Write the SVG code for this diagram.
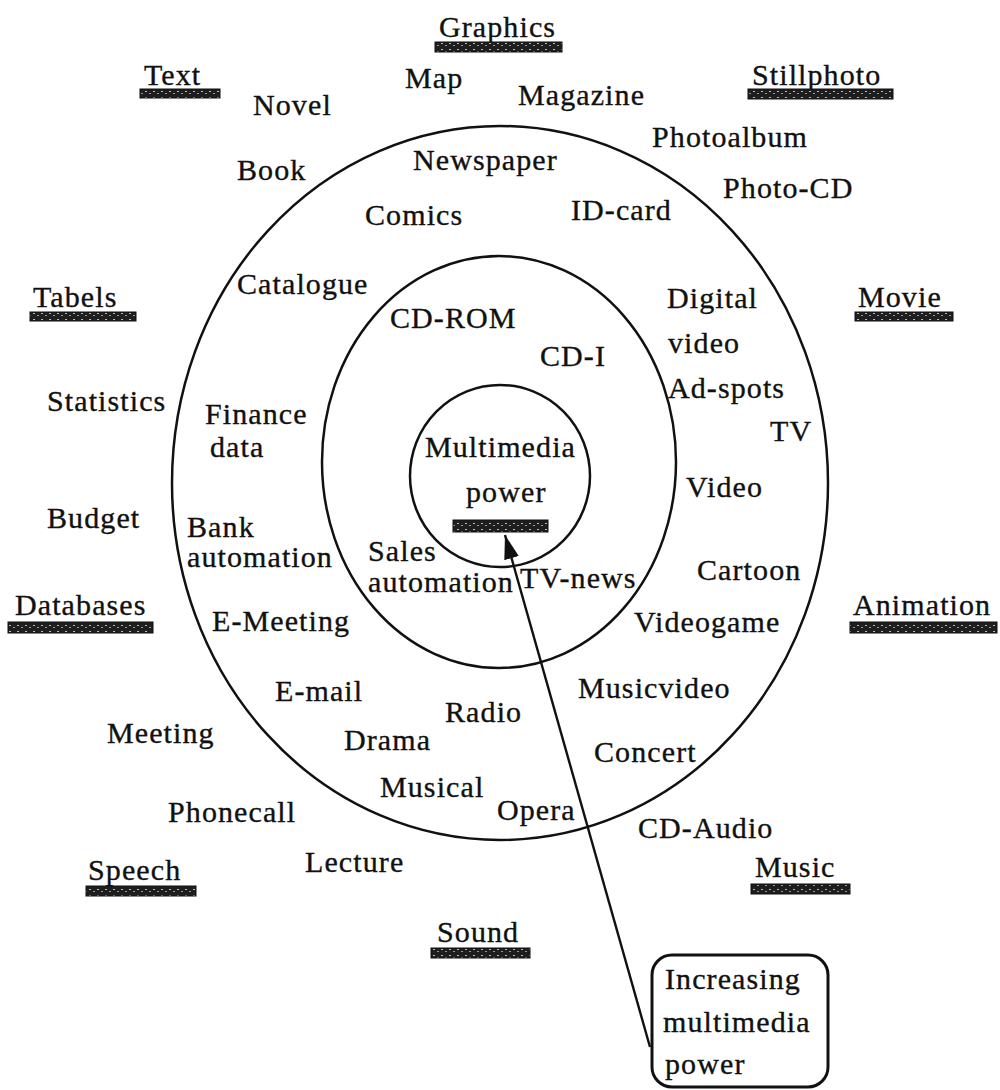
<svg xmlns="http://www.w3.org/2000/svg" width="1000" height="1090" viewBox="0 0 1000 1090">
<style>
  text { font-family: "Liberation Serif", "Times New Roman", serif; font-size: 30px; letter-spacing: 1.1px; fill: #111; stroke: #111; stroke-width: 0.35; }
  .ring { fill: none; stroke: #111; stroke-width: 2.5; }
  .bar { fill: url(#hatch); stroke: #111; stroke-width: 1; }
  .conn { fill: none; stroke: #111; stroke-width: 2.4; }
  .box { fill: #fff; stroke: #111; stroke-width: 3; }
</style>
<defs>
  <pattern id="hatch" patternUnits="userSpaceOnUse" width="8" height="6">
    <rect width="8" height="6" fill="#1e1e1e"/>
    <rect x="1" y="1" width="2" height="1" fill="#bbb"/>
    <rect x="5" y="3" width="2" height="1" fill="#999"/>
  </pattern>
  <marker id="arrow" markerUnits="userSpaceOnUse" markerWidth="26" markerHeight="16" refX="24" refY="7.5" orient="auto">
    <path d="M0,0 L24,7.5 L0,15 Z" fill="#111"/>
  </marker>
</defs>

<g id="rings">
  <ellipse id="ring-outer" class="ring" cx="500" cy="483" rx="328" ry="357"/>
  <ellipse id="ring-middle" class="ring" cx="499" cy="462" rx="177" ry="206"/>
  <ellipse id="ring-inner" class="ring" cx="500" cy="476" rx="90" ry="91"/>
</g>

<g id="categories">
  <g id="cat-graphics"><text x="439" y="37">Graphics</text><rect class="bar" x="435" y="42" width="127" height="10"/></g>
  <g id="cat-text"><text x="144" y="85">Text</text><rect class="bar" x="140" y="89" width="80" height="9"/></g>
  <g id="cat-stillphoto"><text x="752" y="85">Stillphoto</text><rect class="bar" x="748" y="89" width="145" height="10"/></g>
  <g id="cat-tabels"><text x="33" y="307">Tabels</text><rect class="bar" x="30" y="312" width="106" height="9"/></g>
  <g id="cat-movie"><text x="858" y="307">Movie</text><rect class="bar" x="855" y="312" width="98" height="9"/></g>
  <g id="cat-databases"><text x="15" y="615">Databases</text><rect class="bar" x="8" y="622" width="145" height="11"/></g>
  <g id="cat-animation"><text x="853" y="615">Animation</text><rect class="bar" x="850" y="622" width="147" height="11"/></g>
  <g id="cat-speech"><text x="88" y="880">Speech</text><rect class="bar" x="86" y="886" width="110" height="10"/></g>
  <g id="cat-music"><text x="755" y="877">Music</text><rect class="bar" x="751" y="884" width="99" height="10"/></g>
  <g id="cat-sound"><text x="437" y="942">Sound</text><rect class="bar" x="431" y="948" width="99" height="10"/></g>
</g>

<g id="outside">
  <text id="n-map" x="405" y="88">Map</text>
  <text id="n-novel" x="253" y="115">Novel</text>
  <text id="n-magazine" x="518" y="105">Magazine</text>
  <text id="n-photoalbum" x="652" y="147">Photoalbum</text>
  <text id="n-photocd" x="723" y="198">Photo-CD</text>
  <text id="n-book" x="237" y="180">Book</text>
  <text id="n-statistics" x="47" y="411">Statistics</text>
  <text id="n-budget" x="47" y="528">Budget</text>
  <text id="n-meeting" x="107" y="743">Meeting</text>
  <text id="n-phonecall" x="168" y="822">Phonecall</text>
  <text id="n-lecture" x="305" y="872">Lecture</text>
  <text id="n-cdaudio" x="638" y="838">CD-Audio</text>
</g>

<g id="outer-ring-items">
  <text id="n-newspaper" x="413" y="170">Newspaper</text>
  <text id="n-comics" x="365" y="225">Comics</text>
  <text id="n-idcard" x="571" y="220">ID-card</text>
  <text id="n-catalogue" x="237" y="294">Catalogue</text>
  <g id="n-digitalvideo"><text x="667" y="308">Digital</text><text x="668" y="353">video</text></g>
  <text id="n-adspots" x="668" y="398">Ad-spots</text>
  <text id="n-tv" x="770" y="441">TV</text>
  <g id="n-financedata"><text x="205" y="424">Finance</text><text x="210" y="457">data</text></g>
  <text id="n-video" x="686" y="497">Video</text>
  <g id="n-bankautomation"><text x="187" y="537">Bank</text><text x="187" y="567">automation</text></g>
  <text id="n-cartoon" x="697" y="580">Cartoon</text>
  <text id="n-videogame" x="634" y="632">Videogame</text>
  <text id="n-emeeting" x="212" y="631">E-Meeting</text>
  <text id="n-email" x="275" y="701">E-mail</text>
  <text id="n-musicvideo" x="578" y="698">Musicvideo</text>
  <text id="n-radio" x="445" y="722">Radio</text>
  <text id="n-drama" x="344" y="750">Drama</text>
  <text id="n-concert" x="594" y="762">Concert</text>
  <text id="n-musical" x="380" y="797">Musical</text>
  <text id="n-opera" x="497" y="820">Opera</text>
</g>

<g id="middle-ring-items">
  <text id="n-cdrom" x="390" y="328">CD-ROM</text>
  <text id="n-cdi" x="540" y="366">CD-I</text>
  <g id="n-salesautomation"><text x="368" y="561">Sales</text><text x="368" y="592">automation</text></g>
  <text id="n-tvnews" x="520" y="588">TV-news</text>
</g>

<g id="center">
  <text x="425" y="457">Multimedia</text>
  <text x="466" y="502">power</text>
  <rect class="bar" x="453" y="520" width="95" height="12"/>
</g>

<g id="connectors">
  <line class="conn" x1="650" y1="1047" x2="505" y2="535" marker-end="url(#arrow)"/>
</g>

<g id="legend-box">
  <rect class="box" x="652" y="955" width="176" height="132" rx="20" ry="20"/>
  <text x="665" y="989">Increasing</text>
  <text x="663" y="1032">multimedia</text>
  <text x="665" y="1074">power</text>
</g>
</svg>
